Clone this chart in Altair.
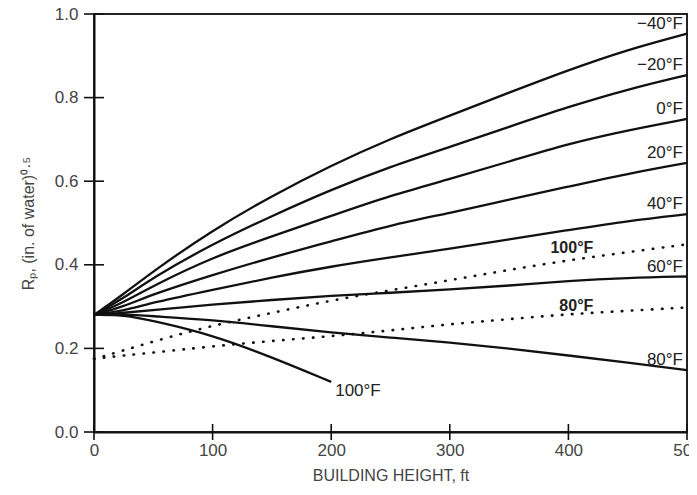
import altair as alt
import pandas as pd

# ---- data ----
heights = [0, 25, 50, 100, 150, 200, 250, 300, 350, 400, 450, 500]
heights_short = [0, 25, 50, 100, 150, 200]

rp_m40 = [0.280, 0.330, 0.385, 0.483, 0.565, 0.638, 0.702, 0.757, 0.812, 0.866, 0.915, 0.953]
rp_m20 = [0.280, 0.320, 0.370, 0.450, 0.517, 0.580, 0.635, 0.682, 0.730, 0.778, 0.820, 0.854]
rp_0 = [0.280, 0.310, 0.350, 0.418, 0.468, 0.517, 0.566, 0.605, 0.647, 0.690, 0.722, 0.749]
rp_20 = [0.280, 0.300, 0.330, 0.376, 0.418, 0.456, 0.495, 0.524, 0.556, 0.587, 0.618, 0.644]
rp_40 = [0.280, 0.290, 0.310, 0.340, 0.370, 0.396, 0.418, 0.438, 0.461, 0.483, 0.505, 0.521]
rp_60 = [0.280, 0.285, 0.292, 0.305, 0.316, 0.326, 0.333, 0.341, 0.350, 0.362, 0.369, 0.372]
rp_80 = [0.280, 0.282, 0.277, 0.268, 0.253, 0.238, 0.226, 0.214, 0.200, 0.183, 0.166, 0.148]
rp_100 = [0.280, 0.280, 0.266, 0.232, 0.179, 0.120]

rp_100_dot = [0.175, 0.195, 0.217, 0.255, 0.285, 0.315, 0.339, 0.363, 0.388, 0.411, 0.430, 0.449]
rp_80_dot = [0.175, 0.183, 0.190, 0.205, 0.218, 0.229, 0.243, 0.258, 0.270, 0.282, 0.290, 0.298]

solid_names = ["−40°F", "−20°F", "0°F", "20°F", "40°F", "60°F", "80°F"]
solid_values = [rp_m40, rp_m20, rp_0, rp_20, rp_40, rp_60, rp_80]
dotted_names = ["100°F", "80°F"]
dotted_values = [rp_100_dot, rp_80_dot]
dotted_label_x = [421, 421]
dotted_label_y = [0.425, 0.287]

x_ticks = [0, 100, 200, 300, 400, 500]
y_ticks = [0.0, 0.2, 0.4, 0.6, 0.8, 1.0]

# ---- tables ----
solid_rows = []
for name, vals in zip(solid_names, solid_values):
    for h, v in zip(heights, vals):
        solid_rows.append({"series": name, "h": h, "rp": v})
for h, v in zip(heights_short, rp_100):
    solid_rows.append({"series": "100°F solid", "h": h, "rp": v})
solid_df = pd.DataFrame(solid_rows)

dotted_rows = []
for name, vals in zip(dotted_names, dotted_values):
    for h, v in zip(heights, vals):
        dotted_rows.append({"series": name, "h": h, "rp": v})
dotted_df = pd.DataFrame(dotted_rows)

end_labels = pd.DataFrame({
    "label": solid_names,
    "h": [heights[-1]] * len(solid_names),
    "rp": [vals[-1] for vals in solid_values],
})
dot_labels = pd.DataFrame({"label": dotted_names, "h": dotted_label_x, "rp": dotted_label_y})
short_label = pd.DataFrame({"label": ["100°F"], "h": [heights_short[-1]], "rp": [rp_100[-1]]})

xt_df = pd.DataFrame({"h": x_ticks})
yt_df = pd.DataFrame({"rp": y_ticks})

W, H = 593, 418
FONT = "Liberation Sans"

xscale = alt.Scale(domain=[0, 500], nice=False)
yscale = alt.Scale(domain=[0, 1], nice=False)

x_enc = alt.X("h:Q", scale=xscale, axis=alt.Axis(
    values=x_ticks, ticks=False, labelPadding=10, title="BUILDING HEIGHT, ft",
    titlePadding=9, labelFlush=False, grid=False))
y_enc = alt.Y("rp:Q", scale=yscale, axis=alt.Axis(
    values=y_ticks, format=".1f", ticks=False, labelPadding=16,
    title="Rₚ, (in. of water)⁰·⁵", titlePadding=18, grid=False))

solid = alt.Chart(solid_df).mark_line(
    color="#111", strokeWidth=2.3, interpolate="basis").encode(
    x=x_enc, y=y_enc, detail="series:N")

dotted = alt.Chart(dotted_df).mark_line(
    color="#111", strokeWidth=2.6, strokeDash=[0.5, 9.5], strokeCap="round",
    interpolate="basis").encode(
    x="h:Q", y="rp:Q", detail="series:N")

end_text = alt.Chart(end_labels).mark_text(
    align="right", baseline="alphabetic", dx=-4, dy=-5, fontSize=17, font=FONT,
    color="#222").encode(x="h:Q", y="rp:Q", text="label:N")

dot_text = alt.Chart(dot_labels).mark_text(
    align="right", baseline="alphabetic", dy=-1, fontSize=16, font=FONT,
    fontWeight="bold", color="#222").encode(x="h:Q", y="rp:Q", text="label:N")

short_text = alt.Chart(short_label).mark_text(
    align="left", baseline="top", dx=4, dy=1, fontSize=17, font=FONT,
    color="#222").encode(x="h:Q", y="rp:Q", text="label:N")

ytick_rules = alt.Chart(yt_df).mark_rule(color="#111", strokeWidth=1.6).encode(
    y="rp:Q", x=alt.value(-10), x2=alt.value(10))
xtick_rules = alt.Chart(xt_df).mark_rule(color="#111", strokeWidth=1.6).encode(
    x="h:Q", y=alt.value(H - 8), y2=alt.value(H + 8))

chart = alt.layer(
    solid, dotted, end_text, dot_text, short_text, ytick_rules, xtick_rules
).properties(
    width=W, height=H,
    autosize=alt.AutoSizeParams(type="none"),
    padding={"left": 86, "top": 6, "right": 2, "bottom": 52},
).configure_view(
    stroke="#222", strokeWidth=2
).configure_axis(
    domainColor="#111", domainWidth=2,
    labelFont=FONT, labelFontSize=17, labelColor="#444",
    titleFont=FONT, titleFontSize=16, titleColor="#444", titleFontWeight="normal",
)

chart.save("out.html", embed_options={"renderer": "svg", "actions": False})
